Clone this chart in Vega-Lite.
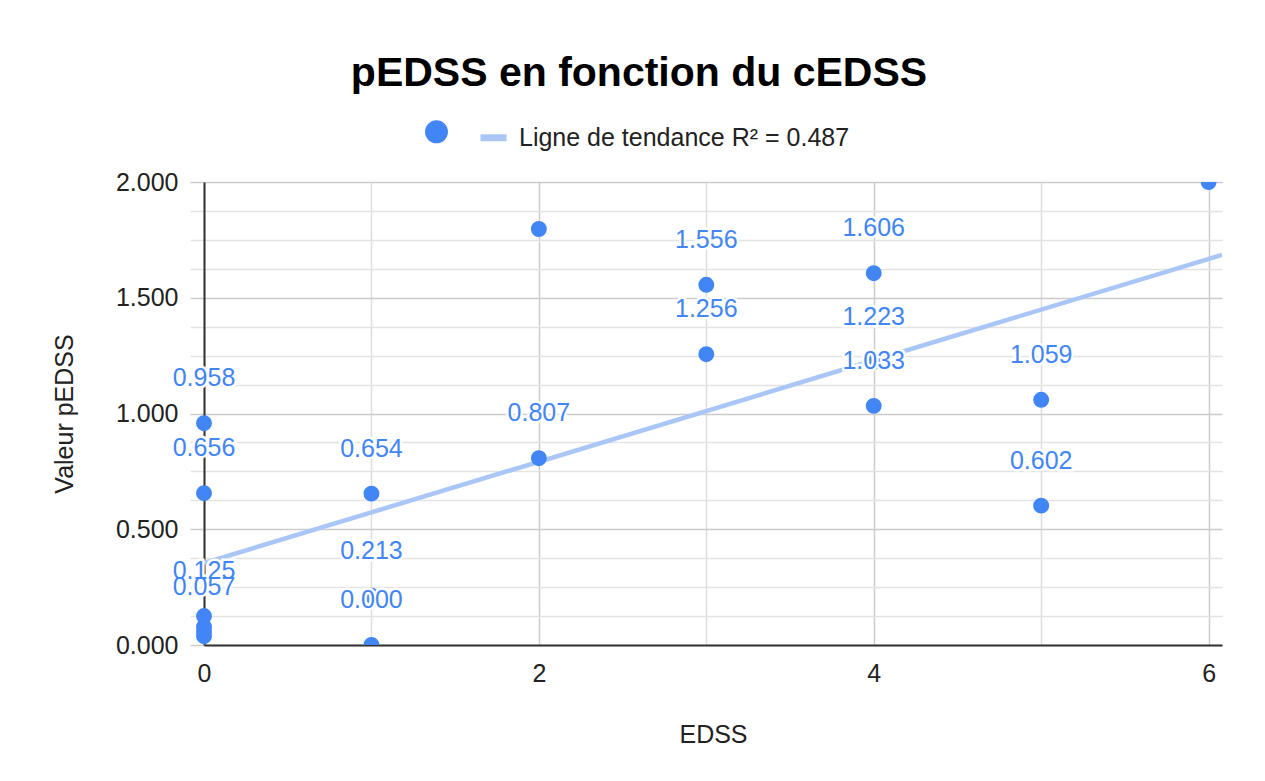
{
  "$schema": "https://vega.github.io/schema/vega-lite/v6.json",
  "autosize": {"type": "none"},
  "width": 1018,
  "height": 463,
  "padding": {"left": 204, "top": 182, "right": 43, "bottom": 136},
  "background": "white",
  "title": {
    "text": "pEDSS en fonction du cEDSS",
    "anchor": "middle",
    "dx": -74,
    "offset": 24,
    "fontSize": 41,
    "font": "Liberation Sans",
    "fontWeight": "bold",
    "color": "#000000"
  },
  "config": {
    "font": "Liberation Sans",
    "view": {"stroke": null},
    "axis": {"labelFont": "Liberation Sans", "titleFont": "Liberation Sans", "labelFontSize": 25, "titleFontSize": 25, "labelColor": "#222222", "titleColor": "#222222", "titleFontWeight": "normal"},
    "legend": {
      "orient": "none",
      "legendX": 220,
      "legendY": -63,
      "direction": "horizontal",
      "labelFontSize": 25,
      "labelFont": "Liberation Sans",
      "labelColor": "#222222",
      "labelLimit": 800,
      "symbolStrokeWidth": 7,
      "labelOffset": 9,
      "columnPadding": 7
    }
  },
  "datasets": {
    "points": [
      {"edss": 0, "pedss": 0.958, "label": "0.958", "series": " "},
      {"edss": 0, "pedss": 0.656, "label": "0.656", "series": " "},
      {"edss": 0, "pedss": 0.125, "label": "0.125", "series": " "},
      {"edss": 0, "pedss": 0.078, "label": "", "series": " "},
      {"edss": 0, "pedss": 0.057, "label": "0.057", "series": " "},
      {"edss": 0, "pedss": 0.038, "label": "", "series": " "},
      {"edss": 1, "pedss": 0.654, "label": "0.654", "series": " "},
      {"edss": 1, "pedss": 0.213, "label": "0.213", "series": " "},
      {"edss": 1, "pedss": 0.0, "label": "0.000", "series": " "},
      {"edss": 2, "pedss": 1.797, "label": "", "series": " "},
      {"edss": 2, "pedss": 0.807, "label": "0.807", "series": " "},
      {"edss": 3, "pedss": 1.556, "label": "1.556", "series": " "},
      {"edss": 3, "pedss": 1.256, "label": "1.256", "series": " "},
      {"edss": 4, "pedss": 1.606, "label": "1.606", "series": " "},
      {"edss": 4, "pedss": 1.223, "label": "1.223", "series": " "},
      {"edss": 4, "pedss": 1.033, "label": "1.033", "series": " "},
      {"edss": 5, "pedss": 1.059, "label": "1.059", "series": " "},
      {"edss": 5, "pedss": 0.602, "label": "0.602", "series": " "},
      {"edss": 6, "pedss": 2.0, "label": "", "series": " "}
    ],
    "trend": [
      {"edss": 0, "pedss": 0.354},
      {"edss": 6.08, "pedss": 1.685}
    ]
  },
  "encoding": {
    "x": {
      "field": "edss", "type": "quantitative",
      "scale": {"domain": [0, 6.08], "nice": false, "zero": false},
      "axis": {
        "title": "EDSS",
        "values": [0, 1, 2, 3, 4, 5, 6],
        "labelExpr": "datum.value % 2 == 0 ? datum.label : ''",
        "ticks": false,
        "labelPadding": 16,
        "titlePadding": 36,
        "domainColor": "#333333",
        "domainWidth": 2,
        "gridColor": {"condition": {"test": "datum.value % 2 == 0", "value": "#cccccc"}, "value": "#dddddd"},
        "gridWidth": 1.5,
        "labelFlush": false
      }
    },
    "y": {
      "field": "pedss", "type": "quantitative",
      "scale": {"domain": [0, 2], "nice": false},
      "axis": {
        "title": "Valeur pEDSS",
        "values": [0, 0.125, 0.25, 0.375, 0.5, 0.625, 0.75, 0.875, 1, 1.125, 1.25, 1.375, 1.5, 1.625, 1.75, 1.875, 2],
        "labelExpr": "datum.value % 0.5 == 0 ? format(datum.value, '.3f') : ''",
        "tickSize": 14,
        "tickColor": {"condition": {"test": "datum.value % 0.5 == 0", "value": "#cccccc"}, "value": "#e3e3e3"},
        "tickWidth": 1.5,
        "labelPadding": 12,
        "titlePadding": 38,
        "domainColor": "#333333",
        "domainWidth": 2,
        "gridColor": {"condition": {"test": "datum.value % 0.5 == 0", "value": "#cccccc"}, "value": "#e3e3e3"},
        "gridWidth": 1.5
      }
    }
  },
  "layer": [
    {
      "data": {"name": "trend"},
      "mark": {"type": "line", "color": "#a9c6f6", "strokeWidth": 4.5, "clip": true}
    },
    {
      "data": {"name": "points"},
      "transform": [{"filter": "datum.edss == 0"}],
      "mark": {"type": "point", "filled": true, "opacity": 1, "strokeWidth": 0},
      "encoding": {
        "fill": {"field": "series", "type": "nominal", "title": null,
          "scale": {"domain": [" ", "Ligne de tendance R² = 0.487"], "range": ["#4285F4", "#a9c6f6"]}},
        "stroke": {"field": "series", "type": "nominal", "title": null,
          "scale": {"domain": [" ", "Ligne de tendance R² = 0.487"], "range": ["#4285F4", "#a9c6f6"]}},
        "shape": {"field": "series", "type": "nominal", "title": null,
          "scale": {"domain": [" ", "Ligne de tendance R² = 0.487"], "range": ["circle", "stroke"]}},
        "size": {"field": "series", "type": "nominal", "title": null,
          "scale": {"domain": [" ", "Ligne de tendance R² = 0.487"], "range": [254, 676]}}
      }
    },
    {
      "data": {"name": "points"},
      "transform": [{"filter": "datum.edss > 0"}],
      "mark": {"type": "point", "filled": true, "opacity": 1, "strokeWidth": 0, "clip": true},
      "encoding": {
        "fill": {"field": "series", "type": "nominal", "title": null},
        "stroke": {"field": "series", "type": "nominal", "title": null},
        "shape": {"field": "series", "type": "nominal", "title": null},
        "size": {"field": "series", "type": "nominal", "title": null}
      }
    },
    {
      "data": {"name": "points"},
      "mark": {"type": "text", "fontSize": 25, "font": "Liberation Sans", "baseline": "middle", "dy": -45, "stroke": "white", "strokeWidth": 5, "fill": "white"},
      "encoding": {"text": {"field": "label"}}
    },
    {
      "data": {"name": "points"},
      "mark": {"type": "text", "fontSize": 25, "font": "Liberation Sans", "baseline": "middle", "dy": -45, "fill": "#4285F4"},
      "encoding": {"text": {"field": "label"}}
    }
  ]
}
